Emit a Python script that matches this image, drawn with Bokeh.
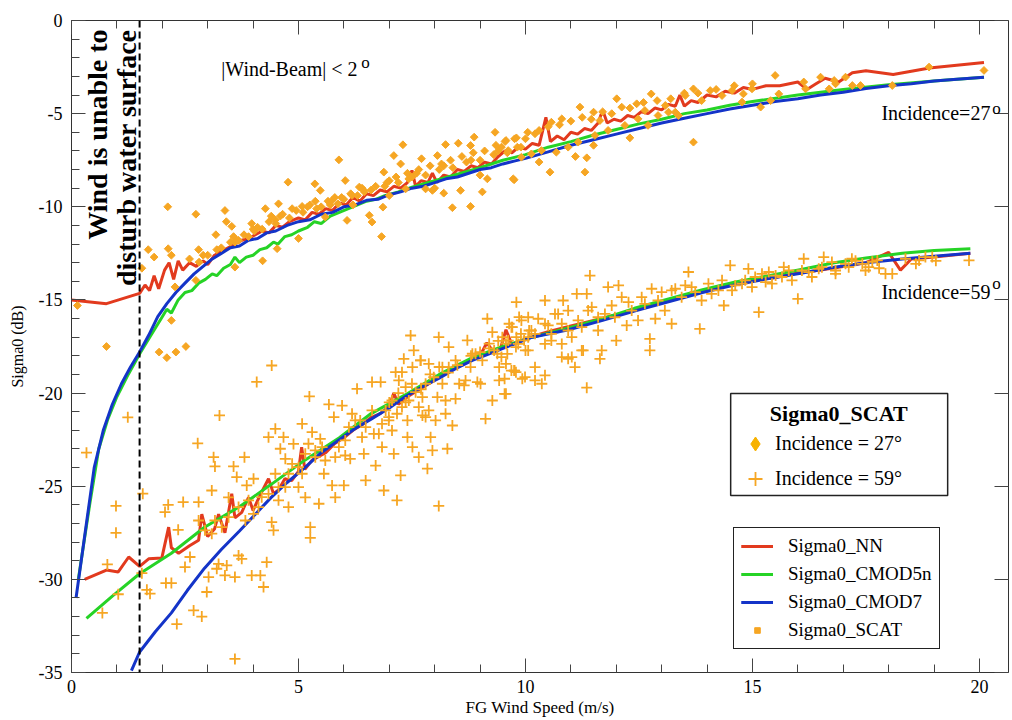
from math import pi
from bokeh.plotting import figure
from bokeh.models import (ColumnDataSource, Span, Label, Legend, LegendItem, Range1d,
                          LinearAxis, SingleIntervalTicker, BoxAnnotation)
from bokeh.embed import file_html
from bokeh.resources import INLINE

FONT = "Liberation Serif"

# ---------------- data ----------------
# Incidence 27 deg model curves
nn27_x = [0.0, 0.77, 1.5, 1.62, 1.72, 1.82, 1.92, 2.05, 2.15, 2.25, 2.35, 2.45, 2.6, 2.75, 2.9, 3.0, 3.15,
          3.3, 3.45, 3.6, 3.75, 3.9, 4.05, 4.2, 4.35, 4.5, 4.65, 4.8, 5.0, 5.15, 5.3, 5.45, 5.6, 5.75, 5.9,
          6.05, 6.2, 6.35, 6.5, 6.65, 6.8, 6.95, 7.1, 7.25, 7.4, 7.5, 7.58, 7.7, 7.85, 7.95, 8.05, 8.2,
          8.35, 8.5, 8.65, 8.8, 8.95, 9.1, 9.25, 9.4, 9.55, 9.7, 9.85, 10.0, 10.15, 10.3, 10.45, 10.55,
          10.7, 10.85, 11.0, 11.15, 11.3, 11.45, 11.6, 11.7, 11.8, 11.95, 12.1, 12.25, 12.4, 12.55, 12.7,
          12.85, 13.0, 13.15, 13.3, 13.4, 13.5, 13.65, 13.8, 14.0, 14.2, 14.4, 14.6, 14.8, 15.0, 15.3,
          15.6, 16.0, 16.2, 16.4, 16.6, 16.9, 17.2, 17.5, 18.1, 18.9, 19.5, 20.1]
nn27_y = [-15.0, -15.2, -14.65, -14.2, -14.5, -13.7, -14.4, -13.4, -13.0, -13.9, -12.9, -13.4, -13.0,
          -13.2, -12.9, -13.1, -12.6, -12.4, -12.2, -12.0, -11.8, -11.7, -11.5, -11.3, -11.4, -11.0,
          -11.1, -10.8, -10.6, -10.7, -10.3, -10.4, -10.1, -10.2, -9.8, -9.9, -9.5, -9.7, -9.3, -9.4,
          -9.1, -9.2, -8.9, -9.0, -8.7, -8.05, -8.9, -8.6, -8.7, -8.2, -8.7, -8.3, -8.4, -8.0, -8.1,
          -7.8, -7.9, -7.6, -7.7, -7.3, -7.0, -7.1, -6.8, -6.9, -6.6, -6.7, -5.2, -6.5, -6.2, -6.4,
          -6.0, -6.1, -5.8, -5.9, -5.5, -4.8, -5.5, -5.3, -5.4, -5.1, -5.2, -4.9, -5.0, -4.7, -4.8,
          -4.5, -4.6, -4.0, -4.6, -4.3, -4.4, -4.0, -4.1, -3.8, -3.9, -3.6, -3.7, -3.5, -3.5, -3.3,
          -3.7, -3.4, -3.1, -3.3, -2.8, -2.7, -2.9, -2.55, -2.4, -2.25]

c5_27_x = [0.15, 0.4, 0.6, 0.8, 1.0, 1.25, 1.5, 1.75, 2.0, 2.1, 2.2, 2.35, 2.5, 2.65, 2.8, 2.95, 3.1,
           3.2, 3.35, 3.5, 3.6, 3.7, 3.85, 4.0, 4.15, 4.3, 4.45, 4.55, 4.7, 4.85, 5.0, 5.2, 5.35, 5.5,
           5.7, 5.9, 6.1, 6.3, 6.5, 6.7, 6.9, 7.2, 7.5, 8.0, 8.5, 9.0, 9.5, 10.0, 10.5, 11.0, 11.5,
           12.0, 12.5, 13.0, 13.5, 14.0, 14.5, 15.0, 16.0, 17.0, 18.0, 19.0, 20.1]
c5_27_y = [-30.0, -26.0, -23.0, -21.4, -20.2, -19.0, -17.9, -16.9, -15.9, -15.5, -15.7, -15.0, -14.6,
           -14.5, -14.1, -13.9, -13.6, -13.7, -13.3, -13.1, -12.7, -13.0, -12.7, -12.6, -12.3, -12.2,
           -11.9, -12.0, -11.6, -11.5, -11.3, -11.1, -10.8, -10.9, -10.5, -10.3, -10.1, -9.9, -9.7,
           -9.6, -9.4, -9.2, -8.95, -8.6, -8.25, -7.9, -7.5, -7.2, -6.8, -6.5, -6.15, -5.85, -5.55,
           -5.3, -5.0, -4.8, -4.55, -4.35, -4.0, -3.7, -3.45, -3.25, -3.05]

c7_27_x = [0.1, 0.3, 0.5, 0.7, 0.9, 1.1, 1.3, 1.5, 1.7, 1.9, 2.1, 2.3, 2.5, 2.7, 2.9, 3.1, 3.3, 3.5,
           3.7, 3.9, 4.1, 4.3, 4.5, 4.75, 5.0, 5.25, 5.5, 5.75, 6.0, 6.25, 6.5, 6.75, 7.0, 7.25, 7.5,
           7.75, 8.0, 8.25, 8.5, 8.75, 9.0, 9.25, 9.5, 9.75, 10.0, 10.5, 11.0, 11.5, 12.0, 12.5, 13.0,
           13.5, 14.0, 14.5, 15.0, 15.5, 16.0, 16.5, 17.0, 17.5, 18.0, 18.5, 19.0, 19.5, 20.1]
c7_27_y = [-31.0, -27.5, -24.0, -22.0, -20.6, -19.5, -18.6, -17.8, -16.9, -15.9, -15.2, -14.6, -14.1,
           -13.6, -13.2, -12.8, -12.5, -12.2, -12.1, -11.8, -11.7, -11.4, -11.3, -11.0, -10.8, -10.7,
           -10.4, -10.3, -10.0, -9.9, -9.65, -9.6, -9.35, -9.2, -9.0, -8.9, -8.7, -8.5, -8.4, -8.2,
           -8.0, -7.9, -7.7, -7.55, -7.4, -7.05, -6.7, -6.4, -6.1, -5.8, -5.5, -5.25, -5.0, -4.75,
           -4.55, -4.35, -4.2, -4.0, -3.85, -3.65, -3.5, -3.4, -3.25, -3.15, -3.05]

# Incidence 59 deg model curves
nn59_x = [0.29, 0.77, 1.03, 1.26, 1.5, 1.7, 1.99, 2.14, 2.2, 2.36, 2.6, 2.8, 2.87, 3.0, 3.15, 3.24, 3.38,
          3.53, 3.6, 3.75, 3.9, 4.0, 4.15, 4.34, 4.45, 4.56, 4.7, 4.85, 5.0, 5.07, 5.14, 5.3, 5.45, 5.6,
          5.8, 6.0, 6.2, 6.4, 6.6, 6.8, 7.0, 7.1, 7.2, 7.4, 7.6, 7.8, 8.0, 8.2, 8.4, 8.6, 8.8, 9.0,
          9.15, 9.3, 9.45, 9.57, 9.7, 9.9, 10.1, 10.5, 11.0, 11.5, 12.0, 12.5, 13.0, 13.5, 14.0, 14.5,
          15.0, 15.5, 16.0, 16.5, 17.0, 17.5, 18.0, 18.26, 18.5, 19.0, 19.8]
nn59_y = [-30.0, -29.5, -29.6, -28.8, -29.3, -28.9, -28.85, -27.2, -28.3, -28.6, -28.2, -27.9, -26.5,
          -27.7, -27.3, -26.5, -27.5, -25.4, -26.7, -26.4, -25.6, -26.3, -25.5, -24.6, -25.4, -25.2,
          -24.6, -24.7, -24.2, -22.9, -24.1, -23.6, -23.4, -23.2, -22.7, -22.4, -22.0, -21.7, -21.3,
          -21.1, -20.7, -20.0, -20.6, -20.2, -19.9, -19.6, -19.3, -19.0, -18.7, -18.5, -18.2, -18.0,
          -17.3, -17.8, -17.6, -16.6, -17.4, -17.2, -17.0, -16.7, -16.4, -16.1, -15.8, -15.5, -15.1,
          -14.8, -14.5, -14.2, -13.95, -13.8, -13.55, -13.4, -13.2, -13.0, -12.45, -13.4, -12.8,
          -12.7, -12.5]

c5_59_x = [0.33, 0.9, 1.5, 2.2, 2.93, 3.7, 4.4, 5.14, 5.9, 6.6, 7.35, 8.1, 8.83, 9.5, 10.15, 10.95,
           11.7, 12.4, 13.15, 13.9, 14.6, 15.36, 16.1, 16.8, 17.5, 18.3, 19.0, 19.8]
c5_59_y = [-32.1, -30.9, -29.7, -28.6, -27.2, -26.1, -24.9, -23.6, -22.4, -21.1, -20.1, -19.0, -18.1,
           -17.5, -17.0, -16.5, -16.0, -15.45, -14.95, -14.45, -14.05, -13.7, -13.35, -13.0, -12.75,
           -12.5, -12.35, -12.25]

c7_59_x = [1.32, 1.5, 1.85, 2.2, 2.55, 2.93, 3.3, 3.7, 4.05, 4.4, 4.75, 5.14, 5.5, 5.9, 6.25, 6.6, 7.0,
           7.35, 7.7, 8.1, 8.45, 8.83, 9.2, 9.56, 10.15, 10.95, 11.7, 12.4, 13.15, 13.9, 14.6, 15.36,
           16.1, 16.8, 17.5, 18.3, 19.0, 19.8]
c7_59_y = [-34.9, -33.9, -32.8, -31.8, -30.6, -29.4, -28.4, -27.4, -26.5, -25.6, -24.8, -24.0, -23.2,
           -22.5, -21.9, -21.4, -20.8, -20.2, -19.7, -19.2, -18.7, -18.25, -17.9, -17.55, -17.0,
           -16.6, -16.1, -15.6, -15.1, -14.6, -14.2, -13.85, -13.55, -13.25, -13.0, -12.8, -12.65, -12.5]

# SCAT observations, incidence 27 deg (diamonds)
scat27_x = [0.13, 0.77, 1.55, 1.69, 1.82, 2.12, 2.13, 2.2, 2.28, 2.2, 1.93, 2.1, 2.3, 2.52, 2.74, 2.8,
            2.81, 2.74, 3.18, 3.38, 3.41, 3.53, 3.57, 3.6, 3.68, 3.97, 4.03, 4.21, 4.27, 4.4, 4.49,
            4.56, 4.53, 4.77, 4.86, 5.0, 5.08, 5.36, 5.37, 5.48, 5.59, 5.74, 5.89, 5.87, 6.07, 6.03,
            6.18, 6.34, 6.44, 6.56, 6.62, 6.83, 6.86, 6.88, 7.1, 7.25, 7.3, 7.36, 7.43, 7.71, 7.8, 7.95,
            8.06, 8.2, 8.24, 8.39, 8.52, 8.57, 8.79, 8.79, 8.87, 9.05, 9.16, 9.33, 9.57, 9.75, 9.82,
            10.0,
            3.0, 3.3, 3.6, 3.9, 4.2, 4.5, 4.8, 5.1, 5.4, 5.7, 6.0, 6.3, 6.6, 6.9, 7.2, 7.5, 7.8, 8.1,
            8.4, 8.7, 9.0, 9.3, 9.6, 9.9, 4.0, 4.6, 5.2, 5.8, 6.4, 7.0, 7.6, 8.2, 8.8, 9.4,
            9.73, 10.54, 11.31, 11.35, 11.1, 13.7, 9.76, 10.21, 10.57, 10.8, 11.2, 11.5, 11.64, 12.01,
            12.12, 12.45, 12.63, 12.77, 13.08, 13.3, 13.52, 13.7, 13.88, 14.07, 14.33, 14.55, 14.77,
            14.8, 14.99, 15.18, 15.4, 15.5, 15.58, 16.13, 16.17, 16.5, 16.69, 16.8, 16.83, 17.05, 17.2,
            17.38, 18.08, 18.89, 20.1, 9.47, 9.62, 9.91, 10.13, 10.35, 10.68, 10.94, 11.16, 11.53,
            11.82, 12.19, 12.48, 12.7, 12.92, 13.15, 13.37,
            5.5, 5.65, 5.95, 6.15, 6.45, 6.7, 6.95, 7.15, 7.4, 7.65, 7.9, 8.15, 8.35, 8.6, 8.85, 9.1,
            9.35, 9.55, 9.8, 10.05, 10.3, 10.5, 10.75, 11.0, 11.25, 11.45, 11.7, 11.9, 12.3, 12.6,
            12.9, 13.2, 13.5, 13.8, 14.2, 14.6, 15.0, 3.2, 3.5, 3.8, 4.1, 4.35, 4.65, 4.95, 5.25, 2.6,
            2.9, 6.2, 7.0, 8.0, 9.0, 10.3, 11.5, 12.3]
scat27_y = [-15.3, -17.5, -13.3, -12.3, -12.7, -10.0, -12.25, -12.6, -14.3, -16.1, -17.8, -18.1, -17.8,
            -17.5, -10.4, -12.3, -12.97, -13.95, -11.5, -10.2, -10.8, -11.05, -11.6, -13.24, -11.8,
            -10.9, -11.3, -12.9, -10.1, -10.5, -10.7, -9.84, -12.25, -8.68, -10.1, -11.7, -9.98,
            -8.77, -9.7, -9.12, -10.55, -9.66, -7.48, -9.84, -10.73, -8.59, -9.39, -8.94, -9.12,
            -10.46, -10.82, -11.6, -10.02, -8.14, -7.25, -7.7, -6.67, -9.04, -8.5, -7.42, -9.04,
            -9.12, -7.25, -9.27, -6.66, -10.05, -6.59, -9.12, -6.71, -9.98, -6.26, -9.2, -8.5, -6.0,
            -6.44, -8.55, -6.8, -6.35,
            -12.6, -12.2, -11.9, -11.6, -11.2, -10.9, -10.6, -10.3, -10.1, -9.9, -9.6, -9.4, -9.1,
            -8.9, -8.7, -8.4, -8.3, -8.0, -7.9, -7.6, -7.5, -7.2, -7.1, -6.8, -11.2, -10.5, -10.0,
            -9.5, -9.0, -8.6, -8.2, -7.8, -7.5, -7.0,
            -8.5, -8.14, -8.14, -7.37, -7.3, -6.53, -6.35, -6.08, -5.46, -5.28, -4.65, -4.92, -5.37,
            -4.2, -4.65, -4.47, -4.83, -3.94, -4.56, -4.92, -4.03, -3.67, -4.3, -3.76, -4.03, -3.76,
            -4.38, -3.94, -3.67, -4.65, -4.3, -2.95, -3.94, -3.3, -3.67, -3.04, -3.67, -3.22, -3.4,
            -3.04, -3.49, -3.49, -3.49, -2.5, -2.68, -6.8, -6.98, -7.34, -7.16, -6.98, -7.07, -6.8,
            -6.53, -6.17, -5.9, -5.63, -5.28, -5.63, -5.1, -4.92, -5.1,
            -10.0, -9.7, -9.5, -9.3, -9.2, -8.9, -8.7, -8.4, -8.2, -8.0, -7.8, -7.7, -7.5, -7.3, -7.1,
            -7.0, -6.7, -6.5, -6.3, -6.0, -5.9, -5.7, -5.6, -5.4, -5.2, -5.3, -4.9, -5.0, -4.7, -4.4,
            -4.3, -4.2, -3.9, -3.9, -3.7, -3.5, -3.4, -12.3, -11.9, -11.5, -11.1, -10.8, -10.4, -10.2,
            -9.9, -12.8, -12.6, -9.9, -9.4, -9.0, -8.3, -7.6, -6.7, -6.3]

# SCAT observations, incidence 59 deg (crosses)
scat59_x = [0.33, 1.24, 0.98, 0.98, 0.79, 1.03, 0.68, 1.57, 1.55, 1.66, 1.73, 2.08, 2.13, 2.06, 2.2, 2.32,
            2.35, 2.46, 2.5, 2.61, 2.69, 2.8, 2.78, 2.87, 2.98, 3.02, 3.09, 3.13, 3.16, 3.2, 3.24, 3.26,
            3.38, 3.42, 3.46, 3.57, 3.6, 3.6, 3.64, 3.68, 3.75, 3.81, 3.86, 4.01, 4.08, 3.97, 4.16,
            4.23, 4.3, 4.34, 4.41, 4.41, 4.45, 4.49, 4.56, 4.6, 4.67, 4.71, 4.78, 4.89, 5.0, 5.08, 5.15,
            5.24, 5.26, 5.26, 5.3, 5.37, 5.45, 5.48, 5.56, 5.67, 5.74, 5.78, 5.81, 5.96, 6.0, 6.03,
            6.14, 6.18, 6.29, 6.36, 6.44, 6.48, 6.62, 6.66, 6.7, 6.81, 6.84, 6.88, 6.99, 7.06, 7.1,
            7.17, 7.25, 7.28, 7.36, 7.4, 7.47, 7.51, 7.54, 7.65, 7.69, 7.73, 7.8, 7.84, 7.91, 7.95,
            8.09, 8.09, 8.17, 8.24, 8.28, 8.31, 8.39, 8.46, 8.65, 8.72, 8.83, 8.94, 9.12, 9.16, 9.27,
            9.31, 9.42, 9.57, 9.64, 9.75, 9.86, 9.93, 10.0,
            7.0, 7.2, 7.5, 7.7, 7.9, 8.1, 8.3, 8.5, 8.8, 9.0, 9.2, 9.4, 9.6, 9.8,
            11.42, 9.8, 10.43, 10.83, 11.13, 11.35, 11.82, 12.05, 13.59, 14.51, 14.91, 15.36, 15.69,
            16.13, 16.57, 16.75, 17.19, 17.75, 17.93, 18.08, 18.67, 18.96, 19.77, 16.0, 15.14, 14.37,
            13.84, 13.22, 12.86, 12.74, 12.74, 12.23, 12.0, 11.68, 11.64, 11.35, 11.27, 11.09, 10.94,
            10.43, 10.36, 10.21, 9.99, 9.76, 9.54, 9.54,
            9.91, 10.13, 10.28, 10.5, 10.72, 10.94, 11.16, 11.38, 11.6, 11.9, 12.27, 12.56, 12.78,
            13.0, 13.3, 13.52, 13.74, 14.03, 14.25, 14.62, 14.84, 15.06, 15.29, 15.51, 15.8, 16.24,
            16.46, 16.83, 17.05, 17.42, 17.56, 18.37, 18.81, 9.47, 9.62, 10.06, 10.57, 10.8,
            7.14, 7.21, 7.32, 7.36, 7.51, 7.58, 7.69, 7.8, 7.87, 7.98, 8.06, 8.17, 8.24, 8.31, 8.46,
            8.54, 8.68, 8.79, 8.9, 9.01, 9.05, 9.2, 9.27, 9.38, 9.49, 9.57, 9.71, 9.79, 9.9, 9.97,
            10.08, 9.57, 9.79, 9.42,
            6.92, 6.99, 7.06, 7.17, 7.28, 7.4, 7.43, 7.65, 7.73, 7.87, 8.02,
            6.77, 6.84, 6.62, 6.48, 6.4, 6.25, 6.11, 6.03, 5.89, 5.81, 5.59, 5.52, 5.37, 5.22, 5.15,
            5.08, 5.0, 4.86, 4.78, 4.71, 4.56, 4.49, 4.34, 4.19, 4.12, 4.01, 3.9, 3.83, 3.68, 3.46,
            3.31, 3.16, 3.09, 2.94, 2.8,
            9.69, 9.84, 10.06, 10.21, 10.43, 10.57, 10.65, 10.8, 10.94, 11.02, 11.24, 11.46, 11.6,
            11.75, 11.97, 12.12, 12.34, 12.48, 12.63, 12.92, 13.07, 13.22, 13.44, 13.66, 13.88, 14.1,
            14.33, 14.55, 14.77, 14.99, 15.21, 15.43, 15.65, 15.87, 16.09, 16.31, 16.53, 16.83, 17.12,
            17.27, 17.49, 17.64, 17.79, 18.6, 19.04, 10.06, 10.43, 10.8, 11.24, 9.69, 10.21, 11.02]
scat59_y = [-23.2, -21.3, -26.06, -27.5, -29.2, -30.8, -31.8, -25.4, -29.67, -30.56, -30.77, -30.2, -26.0,
            -26.39, -30.2, -32.4, -27.34, -25.85, -29.34, -28.8, -31.67, -25.85, -22.7, -32.0, -30.68,
            -29.88, -25.23, -23.44, -23.94, -29.43, -29.17, -21.2, -29.79, -29.25, -25.6, -23.94,
            -29.88, -34.27, -24.51, -28.72, -28.9, -23.44, -24.96, -24.6, -19.4, -29.79, -29.79,
            -30.41, -29.08, -22.37, -26.93, -18.52, -27.37, -21.92, -25.76, -22.99, -22.37, -23.53,
            -26.12, -22.73, -25.05, -21.65, -25.6, -20.18, -27.2, -27.77, -22.1, -23.08, -25.94,
            -22.46, -24.33, -20.61, -24.96, -21.29, -25.6, -20.67, -24.96, -23.35, -23.53, -21.11,
            -19.77, -21.47, -23.26, -24.69, -19.41, -22.19, -23.89, -19.41, -22.9, -25.23, -21.29,
            -22.01, -23.26, -25.76, -24.42, -18.88, -20.5, -22.37, -16.91, -22.9, -17.71, -23.44,
            -18.25, -20.22, -21.29, -24.06, -22.37, -23.08, -17.0, -26.06, -18.61, -21.11, -22.99,
            -17.53, -21.74, -20.31, -19.59, -17.17, -17.89, -19.41, -21.38, -16.01, -20.4, -17.71,
            -19.32, -20.04, -16.28, -18.79, -15.92, -19.23, -17.71,
            -20.5, -20.0, -19.5, -19.8, -19.0, -18.6, -18.9, -18.5, -18.0, -17.8, -17.6, -17.2, -17.9,
            -17.0,
            -13.69, -15.12, -15.03, -15.03, -14.67, -14.67, -14.31, -14.22, -13.5, -13.15, -13.33,
            -13.5, -13.24, -12.79, -12.7, -12.97, -12.79, -12.88, -13.6, -13.6, -12.88, -12.7, -12.88,
            -14.94, -15.66, -15.3, -16.55, -16.28, -16.01, -17.09, -17.71, -16.37, -17.18, -17.71,
            -18.16, -19.71, -17.71, -18.61, -18.16, -19.05, -19.5, -18.61, -19.14, -18.79, -20.04,
            -19.23,
            -16.1, -16.64, -16.01, -16.37, -15.75, -16.64, -16.1, -15.57, -15.93, -15.3, -15.12,
            -14.85, -14.4, -14.58, -14.4, -14.22, -14.58, -14.13, -14.49, -14.22, -13.95, -13.77,
            -14.04, -13.69, -13.42, -13.51, -13.33, -13.6, -13.06, -13.06, -13.24, -12.79, -12.7,
            -18.07, -17.18, -17.0, -16.82, -17.36,
            -18.88, -19.32, -18.16, -19.68, -18.61, -19.95, -18.25, -19.5, -18.43, -19.15, -20.22,
            -19.5, -20.4, -18.61, -18.25, -19.5, -19.32, -18.61, -17.89, -19.5, -18.25, -17.35,
            -16.73, -17.89, -17.0, -17.35, -16.46, -17.53, -16.82, -17.17, -16.64, -18.43, -18.88,
            -18.61,
            -20.93, -21.47, -20.4, -21.11, -20.75, -21.47, -20.4, -20.75, -21.2, -20.93, -21.47,
            -22.19, -21.65, -20.93, -21.83, -22.37, -21.47, -21.83, -22.54, -22.9, -23.44, -23.62,
            -22.9, -23.44, -22.72, -23.26, -24.33, -23.98, -23.8, -24.33, -25.05, -25.05, -24.33,
            -25.41, -25.59, -26.12, -26.48, -25.76, -26.84, -26.12, -26.66, -27.2, -26.84, -27.55,
            -27.37, -26.84,
            -16.46, -17.36, -15.93, -16.82, -16.28, -17.18, -15.75, -16.28, -15.57, -17.0, -16.46,
            -15.39, -16.64, -15.75, -15.93, -14.85, -15.57, -16.1, -15.21, -15.03, -15.57, -14.49,
            -14.85, -14.31, -15.03, -14.67, -13.95, -14.49, -14.13, -14.31, -13.6, -14.13, -13.77,
            -13.95, -13.42, -13.77, -13.24, -13.42, -13.24, -12.9, -13.42, -12.95, -13.3, -13.06,
            -12.9, -17.71, -17.36, -18.07, -17.71, -18.79, -19.32, -18.07]

y_tick_values = [-35, -30, -25, -20, -15, -10, -5, 0]
y_tick_labels = ["-35", "-30", "-25", "-20", "-15", "-10", "-5", "0"]

legend_diamond_x = [float("nan")]
legend_diamond_y = [float("nan")]

RED = "#E23A1E"
GREEN = "#26D326"
BLUE = "#1434C8"
ORANGE = "#F6A623"

# ---------------- figure ----------------
p = figure(width=1012, height=720, output_backend="svg", toolbar_location=None,
           x_range=Range1d(0, 20.64), y_range=Range1d(-35, 0),
           min_border_left=71, min_border_right=4, min_border_top=20, min_border_bottom=48,
           x_axis_label="FG Wind Speed (m/s)", y_axis_label="Sigma0 (dB)")
p.background_fill_color = "white"
p.border_fill_color = "white"
p.outline_line_color = "#333333"
p.outline_line_width = 1
p.xgrid.visible = False
p.ygrid.visible = False


def style_axis(ax, labels=True, minor=True):
    ax.ticker = SingleIntervalTicker(interval=5, num_minor_ticks=5)
    ax.axis_line_color = None
    ax.major_tick_in = 14
    ax.major_tick_out = 0
    ax.minor_tick_in = 8 if minor else 0
    ax.minor_tick_out = 0
    ax.major_tick_line_color = "#444444"
    ax.minor_tick_line_color = "#444444"
    ax.major_tick_line_width = 1
    ax.minor_tick_line_width = 1
    if labels:
        ax.major_label_text_font = FONT
        ax.major_label_text_font_size = "18px"
        ax.major_label_text_color = "black"
        ax.axis_label_text_font = FONT
        ax.axis_label_text_font_style = "normal"
        ax.axis_label_text_font_size = "17px"
        ax.axis_label_text_color = "black"
    else:
        ax.major_label_text_font_size = "0px"
        ax.major_label_text_color = None
        ax.major_label_standoff = 0


style_axis(p.xaxis[0])
style_axis(p.yaxis[0])
p.yaxis[0].major_label_overrides = dict(zip(y_tick_values, y_tick_labels))
p.xaxis[0].major_label_standoff = 7
p.xaxis[0].axis_label_standoff = 2
p.yaxis[0].major_label_standoff = 9
p.yaxis[0].axis_label_standoff = 10
p.yaxis[0].axis_label_text_font_size = "16px"

top_ax = LinearAxis()
style_axis(top_ax, labels=False)
p.add_layout(top_ax, "above")
right_ax = LinearAxis()
style_axis(right_ax, labels=False, minor=False)
p.add_layout(right_ax, "right")

# model lines
LW = 3
r_nn27 = p.line(nn27_x, nn27_y, line_color=RED, line_width=LW)
r_nn59 = p.line(nn59_x, nn59_y, line_color=RED, line_width=LW)
r_c5_27 = p.line(c5_27_x, c5_27_y, line_color=GREEN, line_width=LW)
r_c5_59 = p.line(c5_59_x, c5_59_y, line_color=GREEN, line_width=LW)
r_c7_27 = p.line(c7_27_x, c7_27_y, line_color=BLUE, line_width=LW)
r_c7_59 = p.line(c7_59_x, c7_59_y, line_color=BLUE, line_width=LW)

# observations
src27 = ColumnDataSource(dict(x=scat27_x, y=scat27_y))
src59 = ColumnDataSource(dict(x=scat59_x, y=scat59_y))
r59 = p.scatter("x", "y", source=src59, marker="cross", size=11, line_color=ORANGE, line_width=1.8)
r27 = p.scatter("x", "y", source=src27, marker="square", angle=pi / 4, size=5.5,
                fill_color=ORANGE, line_color=ORANGE)

# legend-only renderer (big diamond)
r_leg_diamond = p.scatter(x=legend_diamond_x, y=legend_diamond_y, marker="diamond",
                          fill_color="#F7B200", line_color="#F7B200")

# dashed threshold line
p.add_layout(Span(location=1.5, dimension="height", line_color="black", line_dash="7 4", line_width=2))

# rotated annotation
for xx, txt in [(0.57, "Wind is unable to"), (1.21, "disturb water surface")]:
    p.add_layout(Label(x=xx, y=-0.48, text=txt, angle=pi / 2, text_align="right",
                       text_baseline="middle", text_font=FONT, text_font_style="bold",
                       text_font_size="28px", text_color="black"))

# text annotations
p.add_layout(Label(x=3.3, y=-3.17, text="|Wind-Beam| < 2", text_font=FONT,
                   text_font_size="20px", text_color="black"))
p.add_layout(Label(x=6.38, y=-2.79, text="o", text_font=FONT, text_font_size="17px", text_color="black"))
p.add_layout(Label(x=17.84, y=-5.53, text="Incidence=27", text_font=FONT,
                   text_font_size="20px", text_color="black"))
p.add_layout(Label(x=20.28, y=-5.21, text="o", text_font=FONT, text_font_size="17px", text_color="black"))
p.add_layout(Label(x=17.84, y=-15.14, text="Incidence=59", text_font=FONT,
                   text_font_size="20px", text_color="black"))
p.add_layout(Label(x=20.28, y=-14.65, text="o", text_font=FONT, text_font_size="17px", text_color="black"))

# legend box for SCAT incidences
p.add_layout(BoxAnnotation(left=14.52, right=19.3, top=-20.02, bottom=-25.5, fill_color="white",
                           fill_alpha=1, line_color="#222222", line_width=1.5, line_alpha=1))
p.add_layout(Label(x=16.9, y=-21.1, text="Sigma0_SCAT", text_align="center", text_baseline="middle",
                   text_font=FONT, text_font_style="bold", text_font_size="22px", text_color="black"))
leg1 = Legend(items=[LegendItem(label="Incidence = 27°", renderers=[r_leg_diamond]),
                     LegendItem(label="Incidence = 59°", renderers=[r59])],
              location=(664, 176), padding=0, spacing=0, glyph_width=40, glyph_height=35,
              label_height=20, label_standoff=0, label_text_font=FONT, label_text_font_size="20px",
              label_text_color="black", border_line_alpha=0, background_fill_alpha=0)
p.add_layout(leg1)

leg2 = Legend(items=[LegendItem(label="Sigma0_NN", renderers=[r_nn27, r_nn59]),
                     LegendItem(label="Sigma0_CMOD5n", renderers=[r_c5_27, r_c5_59]),
                     LegendItem(label="Sigma0_CMOD7", renderers=[r_c7_27, r_c7_59]),
                     LegendItem(label="Sigma0_SCAT", renderers=[r27])],
              location=(662, 23), padding=7, spacing=6, glyph_width=32, glyph_height=14,
              label_height=20, label_standoff=15, label_text_font=FONT, label_text_font_size="19px",
              label_text_color="black", border_line_color="#222222", border_line_width=1.2,
              border_line_alpha=1, background_fill_color="white", background_fill_alpha=1)
p.add_layout(leg2)

open("out.html", "w").write(file_html(p, INLINE))
